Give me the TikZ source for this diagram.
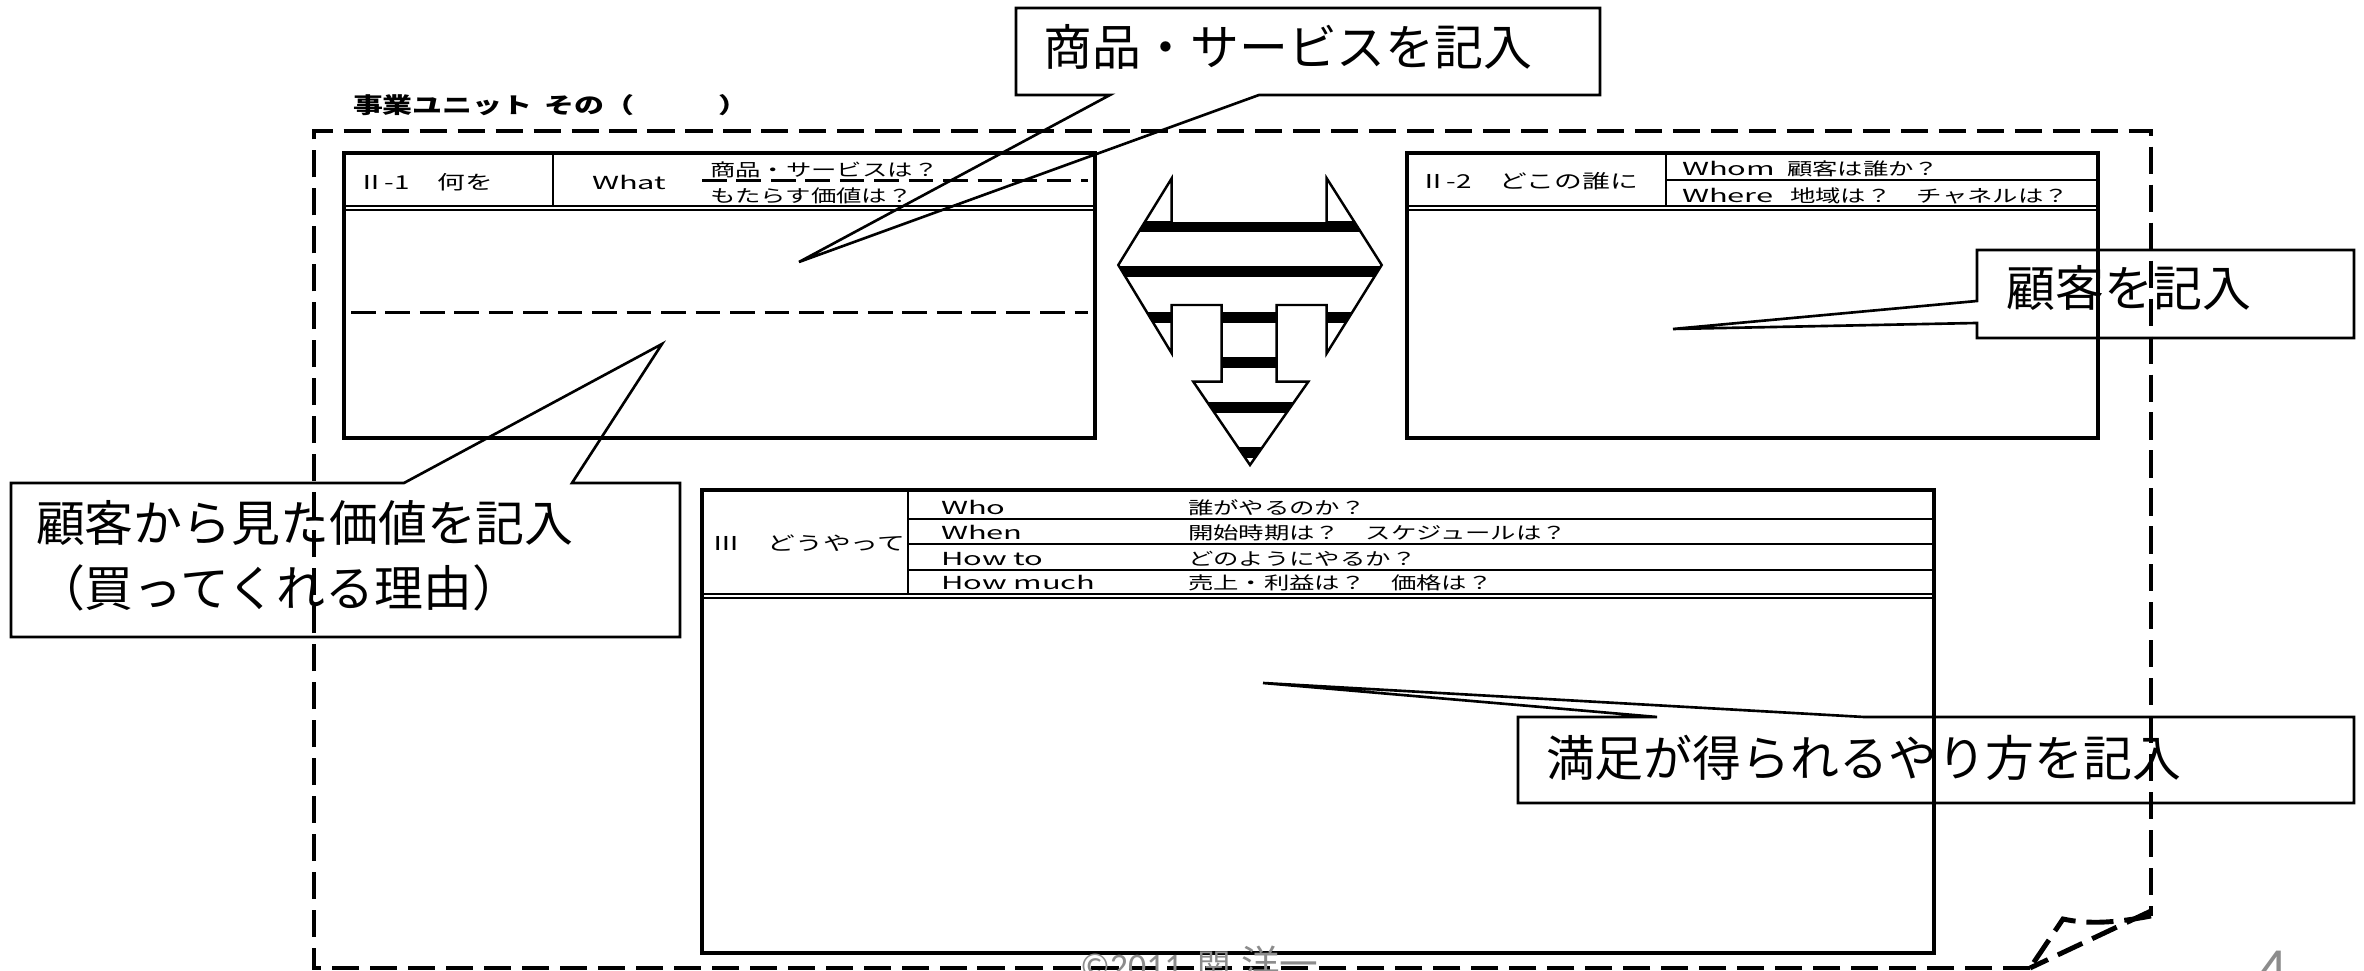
\documentclass[tikz,border=0pt]{standalone}
\usepackage{fontspec}
\setmainfont{Noto Sans CJK JP}
\newfontfamily\cjk{Noto Sans CJK JP}
\newfontfamily\wf[FakeStretch=1.45]{Noto Sans CJK JP}
\newfontfamily\wl[FakeStretch=1.72]{Noto Sans CJK JP}
\newfontfamily\tf[FakeStretch=1.36]{Noto Sans CJK JP}
\newfontfamily\calib{Carlito}
\definecolor{footgray}{gray}{0.55}
\begin{document}
\begin{tikzpicture}[x=0.01cm,y=-0.01cm,
  every node/.style={inner sep=0pt, outer sep=0pt},
  boxline/.style={line width=1pt},
  rule/.style={line width=0.6pt},
  dashrule/.style={line width=0.85pt, dash pattern=on 7pt off 2.8pt},
  frameline/.style={line width=1.4pt, dash pattern=on 7.7pt off 3.1pt},
  callout/.style={line width=0.75pt, line join=miter},
  hdr/.style={font=\wf\fontsize{4.98pt}{6pt}\selectfont, anchor=base west},
  lat/.style={font=\wl\fontsize{5.1pt}{6pt}\selectfont, anchor=base west},
  sect/.style={font=\wf\fontsize{5.45pt}{7pt}\selectfont, anchor=west},
  big/.style={font=\cjk\fontsize{13.9pt}{16pt}\selectfont},
  foot/.style={text=footgray, anchor=base west},
]
\useasboundingbox (0,0) rectangle (2364,971);

% ---------- outer dashed frame with folded corner ----------
\draw[frameline] (2030,968) -- (314,968) -- (314,131) -- (2151,131) -- (2151,916);
\draw[frameline] (2151,916) .. controls (2120,922) and (2090,925) .. (2063,919) -- (2030,968);
\draw[frameline] (2151,911) -- (2030,968);

% ---------- title ----------
\node[font=\tf\bfseries\fontsize{6.26pt}{8pt}\selectfont, anchor=west] (title) at (353,105)
  {事業ユニット\hspace{0.55em}その（\hspace{3.8em}）};

% ---------- box II-1 ----------
\draw[boxline] (344,153) rectangle (1095,438);
\draw[rule] (553,153) -- (553,206);
\draw[rule] (344,206) -- (1095,206);
\draw[rule] (344,210) -- (1095,210);
\draw[dashrule] (702,181) -- (1088,181);
\draw[dashrule] (351,313) -- (1088,313);
\node[sect] (h21) at (357,182) {Ⅱ-1　何を};
\node[lat, anchor=west] (what) at (592,182) {What};
\node[hdr] (what1) at (710,177) {商品・サービスは？};
\node[hdr] (what2) at (710,203) {もたらす価値は？};

% ---------- box II-2 ----------
\draw[boxline] (1407,153) rectangle (2098,438);
\draw[rule] (1666,153) -- (1666,206);
\draw[rule] (1666,180) -- (2098,180);
\draw[rule] (1407,206) -- (2098,206);
\draw[rule] (1407,210) -- (2098,210);
\node[sect] (h22) at (1419,181) {Ⅱ-2　どこの誰に};
\node[lat] (whom) at (1682,176) {Whom};
\node[hdr] (whomq) at (1787,176) {顧客は誰か？};
\node[lat] (where) at (1682,203) {Where};
\node[hdr] (whereq) at (1790,203) {地域は？　チャネルは？};

% ---------- box III ----------
\draw[boxline] (702,490) rectangle (1934,953);
\draw[rule] (908,490) -- (908,594);
\draw[rule] (908,519) -- (1934,519);
\draw[rule] (908,544) -- (1934,544);
\draw[rule] (908,570) -- (1934,570);
\draw[rule] (702,594) -- (1934,594);
\draw[rule] (702,598) -- (1934,598);
\node[sect] (h3) at (712,543) {Ⅲ　どうやって};
\node[lat] (who) at (941,515) {Who};
\node[hdr] (whoq) at (1188,515) {誰がやるのか？};
\node[lat] (when) at (941,540) {When};
\node[hdr] (whenq) at (1188,540) {開始時期は？　スケジュールは？};
\node[lat] (howto) at (941,566) {How to};
\node[hdr] (howtoq) at (1188,566) {どのようにやるか？};
\node[lat] (howmuch) at (941,590) {How much};
\node[hdr] (howmuchq) at (1188,590) {売上・利益は？　価格は？};

% ---------- striped merging arrow ----------
\def\arrowpath{(1171.7,178.3) -- (1118.3,265) -- (1171.7,353.3) -- (1171.7,305)
  -- (1221.7,305) -- (1221.7,381.7) -- (1193.3,381.7) -- (1250,465)
  -- (1308.3,381.7) -- (1276.7,381.7) -- (1276.7,305) -- (1326.7,305)
  -- (1326.7,353.3) -- (1381.7,265) -- (1326.7,178.3) -- (1326.7,223.3)
  -- (1171.7,223.3) -- cycle}
\begin{scope}
  \clip \arrowpath;
  \foreach \yy in {221,266,311.7,356.7,401.7,446.7}
    \fill (1100,\yy) rectangle (1400,{\yy+11});
\end{scope}
\draw[line width=0.7pt, line join=miter] \arrowpath;

% ---------- callouts ----------
\coordinate (tipA) at (799,262);
\coordinate (tipB) at (1673,329);
\coordinate (tipC) at (662,344);
\coordinate (tipD) at (1263,683);
\draw[callout] (1016,8) -- (1600,8) -- (1600,95) -- (1259,95) -- (tipA) -- (1110,95) -- (1016,95) -- cycle;
\node[big] (cA) at (1288,47) {商品・サービスを記入};

\draw[callout] (1977,250) -- (2354,250) -- (2354,338) -- (1977,338) -- (1977,323) -- (tipB) -- (1977,301) -- cycle;
\node[big] (cB) at (2129,288) {顧客を記入};

\draw[callout] (11,483) -- (404,483) -- (tipC) -- (572,483) -- (680,483) -- (680,637) -- (11,637) -- cycle;
\node[big, anchor=west] (cC1) at (36,523) {顧客から見た価値を記入};
\node[big, anchor=west] (cC2) at (36,588) {（買ってくれる理由）};

\draw[callout] (1518,717) -- (1657,717) -- (tipD) -- (1864,717) -- (2354,717) -- (2354,803) -- (1518,803) -- cycle;
\node[big, anchor=west] (cD) at (1546,758) {満足が得られるやり方を記入};

% ---------- footer ----------
\node[foot, font=\calib\fontsize{10.2pt}{12pt}\selectfont] (copy) at (1080,979) {©2011};
\node[foot, font=\cjk\fontsize{9.5pt}{12pt}\selectfont] (nm1) at (1197,979) {関};
\node[foot, font=\cjk\fontsize{11pt}{12pt}\selectfont] (nm2) at (1241,979) {洋一};
\node[foot, font=\calib\fontsize{17pt}{20pt}\selectfont] (pg) at (2257,990) {4};
\end{tikzpicture}
\end{document}
